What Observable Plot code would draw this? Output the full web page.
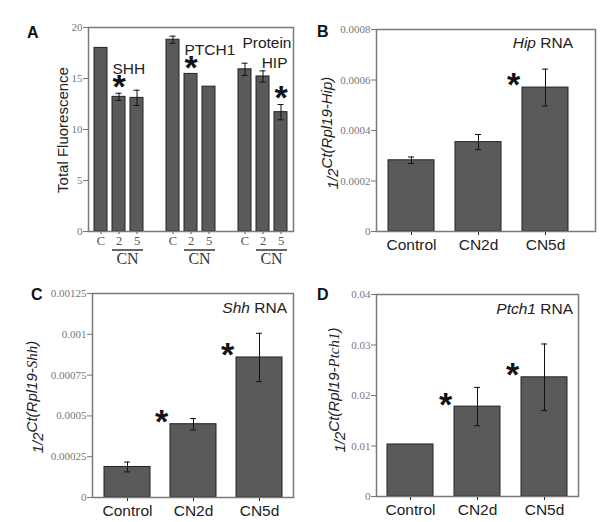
<!DOCTYPE html>
<html><head><meta charset="utf-8">
<script src="https://cdn.jsdelivr.net/npm/d3@7"></script>
<script src="https://cdn.jsdelivr.net/npm/@observablehq/plot@0.6"></script>
<style>
body{margin:0;background:#fff;}
#fig{position:relative;width:600px;height:522px;overflow:hidden;font-family:"Liberation Sans",Arial,sans-serif;}
.letter{position:absolute;font-weight:bold;font-size:16px;line-height:16px;color:#111;}
</style></head><body><div id="fig"></div>
<script>
// ---------- data ----------
// Panel A: protein total fluorescence
const proteins = ["SHH", "PTCH1", "HIP"];
const conditionsA = ["C", "2", "5"];
const proteinMeans = [18.0, 13.2, 13.1, 18.8, 15.45, 14.2, 15.9, 15.2, 11.7];
const proteinErrs = [0, 0.35, 0.75, 0.35, 0, 0, 0.6, 0.55, 0.75];
const proteinStars = [false, true, false, false, true, false, false, false, true];
const yTicksA = [0, 5, 10, 15, 20];
// Panels B-D: RNA
const rnaCategories = ["Control", "CN2d", "CN5d"];
const hipMeans = [0.000282, 0.000354, 0.000570];
const hipErrs = [0.000013, 0.00003, 0.000073];
const hipStars = [false, false, true];
const shhMeans = [0.000187, 0.000449, 0.000858];
const shhErrs = [0.00003, 0.000035, 0.000148];
const shhStars = [false, true, true];
const ptchMeans = [0.0103, 0.0178, 0.0236];
const ptchErrs = [0, 0.0038, 0.0066];
const ptchStars = [false, true, true];
const yTicksB = [0, 0.0002, 0.0004, 0.0006, 0.0008];
const yTicksC = [0, 0.00025, 0.0005, 0.00075, 0.001, 0.00125];
const yTicksD = [0, 0.01, 0.02, 0.03, 0.04];

// ---------- helpers ----------
const fig = document.getElementById("fig");
const SANS = "Liberation Sans, Arial, sans-serif";
const SERIF = "Liberation Serif, Times New Roman, serif";
const BAR_FILL = "#5a5a5a";
const STAR_SIZE = 34;
function place(el, left, top) {
  el.style.position = "absolute"; el.style.left = left + "px"; el.style.top = top + "px";
  fig.appendChild(el);
}
function letter(t, left, top) {
  const d = document.createElement("div"); d.className = "letter"; d.textContent = t;
  d.style.left = left + "px"; d.style.top = top + "px"; fig.appendChild(d);
}
function errMarks(data, xk, inset) {
  const e = data.filter(d => d.err > 0);
  return [
    Plot.ruleX(e, {x: xk, y1: d => d.mean - d.err, y2: d => d.mean + d.err, stroke: "#111", strokeWidth: 1}),
    Plot.tickY(e, {x: xk, y: d => d.mean + d.err, stroke: "#111", strokeWidth: 1, insetLeft: inset, insetRight: inset}),
    Plot.tickY(e, {x: xk, y: d => d.mean - d.err, stroke: "#111", strokeWidth: 1, insetLeft: inset, insetRight: inset})
  ];
}
function yAxis(ticks) {
  return Plot.axisY({ticks, tickFormat: d => String(d), tickSize: 5, tickPadding: 1,
    fontFamily: SERIF, fontSize: 11, color: "#777", label: null});
}
function frame() { return Plot.frame({stroke: "#7a7a7a", strokeWidth: 1.5}); }
// rotated y title with optional superscript / styled parts
function yTitle(svg, x, y, parts) {
  const t = svg.append("text").attr("transform", `translate(${x},${y}) rotate(-90)`)
    .attr("text-anchor", "middle").attr("font-family", SANS).attr("font-size", 15).attr("fill", "#222");
  let raised = false;
  parts.forEach(p => {
    const s = t.append("tspan").text(p.text);
    if (p.italic) s.attr("font-style", "italic");
    if (p.serif) s.attr("font-family", SERIF);
    if (p.sup && !raised) { s.attr("dy", -6); raised = true; }
  });
}
function cornerTitle(svg, x, y, parts) {
  const t = svg.append("text").attr("x", x).attr("y", y).attr("text-anchor", "end")
    .attr("font-family", SANS).attr("font-size", 15.5).attr("fill", "#222");
  parts.forEach(p => { const s = t.append("tspan").text(p.text); if (p.italic) s.attr("font-style", "italic"); });
}
function rnaData(means, errs, stars) {
  return rnaCategories.map((c, i) => ({cat: c, mean: means[i], err: errs[i], star: stars[i]}));
}
function rnaPanel({means, errs, stars, yTicks, width, height, mt, mr, mb, ml, xRange, pin, pout}) {
  const data = rnaData(means, errs, stars);
  const xOpts = {domain: rnaCategories, paddingInner: pin, paddingOuter: pout};
  if (xRange) xOpts.range = xRange;
  return Plot.plot({
    width, height, marginTop: mt, marginRight: mr, marginBottom: mb, marginLeft: ml,
    style: {background: "transparent", overflow: "visible"},
    x: xOpts,
    y: {domain: [yTicks[0], yTicks[yTicks.length - 1]]},
    marks: [
      Plot.barY(data, {x: "cat", y: "mean", fill: BAR_FILL, stroke: "#222", strokeWidth: 1}),
      ...errMarks(data, "cat", 20),
      yAxis(yTicks),
      Plot.axisX({tickSize: 4, tickPadding: 3, fontFamily: SANS, fontSize: 15.5, color: "#222", label: null}),
      frame(),
      Plot.text(data.filter(d => d.star), {x: "cat", y: "mean", text: () => "*", dx: -32, dy: -2,
        fontSize: STAR_SIZE, fontWeight: "bold", fontFamily: SANS, fill: "#111"})
    ]
  });
}

// ---------- Panel A ----------
const keysA = [];
const dataA = [];
proteins.forEach((p, i) => {
  if (i > 0) keysA.push("gap" + i);
  conditionsA.forEach((c, j) => {
    const k = i * 3 + j, key = p + "|" + c;
    keysA.push(key);
    dataA.push({key, protein: p, cond: c, mean: proteinMeans[k], err: proteinErrs[k], star: proteinStars[k]});
  });
});
const labelsA = [
  {text: "SHH", key: "SHH|2", y: 15.9, anchor: "start"},
  {text: "PTCH1", key: "PTCH1|2", y: 17.75, anchor: "start"},
  {text: "HIP", key: "HIP|5", y: 16.5, anchor: "end"}
];
const plotA = Plot.plot({
  width: 300, height: 272, marginTop: 27, marginRight: 7, marginBottom: 41, marginLeft: 88,
  style: {background: "transparent", overflow: "visible"},
  x: {domain: keysA, paddingInner: 0.3, paddingOuter: 0.15},
  y: {domain: [0, 20]},
  marks: [
    Plot.barY(dataA, {x: "key", y: "mean", fill: BAR_FILL, stroke: "#222", strokeWidth: 1}),
    ...errMarks(dataA, "key", 3.5),
    yAxis(yTicksA),
    Plot.axisX({ticks: dataA.map(d => d.key), tickFormat: k => k.split("|")[1], tickSize: 3, tickPadding: 2,
      fontFamily: SERIF, fontSize: 12.5, color: "#555", label: null}),
    frame(),
    Plot.text(dataA.filter(d => d.star), {x: "key", y: d => d.mean + d.err, text: () => "*", dy: -6,
      fontSize: STAR_SIZE, fontWeight: "bold", fontFamily: SANS, fill: "#111"}),
    Plot.text(labelsA.filter(d => d.anchor === "start"), {x: "key", y: "y", text: "text", textAnchor: "start", dx: -6.5,
      fontSize: 15.5, fontFamily: SANS, fill: "#222"}),
    Plot.text(labelsA.filter(d => d.anchor === "end"), {x: "key", y: "y", text: "text", textAnchor: "end", dx: 6.5,
      fontSize: 15.5, fontFamily: SANS, fill: "#222"}),
    Plot.text(["Protein"], {frameAnchor: "top-right", dx: -2, dy: 9, fontSize: 15.5, fontFamily: SANS, fill: "#222"})
  ]
});
place(plotA, 0, 0);
{
  const svg = d3.select(plotA);
  const sx = plotA.scale("x");
  const bw = sx.bandwidth;
  proteins.forEach(p => {
    const x1 = sx.apply(p + "|2"), x2 = sx.apply(p + "|5") + bw;
    svg.append("line").attr("x1", x1).attr("x2", x2).attr("y1", 250).attr("y2", 250)
      .attr("stroke", "#333").attr("stroke-width", 1.5);
    svg.append("text").attr("x", (x1 + x2) / 2).attr("y", 264).attr("text-anchor", "middle")
      .attr("font-family", SERIF).attr("font-size", 16).attr("fill", "#333").text("CN");
  });
  yTitle(svg, 68, 130, [{text: "Total Fluorescence"}]);
}
letter("A", 27, 25);

// ---------- Panel B ----------
const plotB = rnaPanel({means: hipMeans, errs: hipErrs, stars: hipStars, yTicks: yTicksB,
  width: 300, height: 262, mt: 29, mr: 5, mb: 31, ml: 76, xRange: [76, 279], pin: 0.32, pout: 0.155});
place(plotB, 300, 0);
{
  const svg = d3.select(plotB);
  yTitle(svg, 38, 133, [{text: "1/2", italic: true}, {text: "Ct(Rpl19-Hip)", italic: true, sup: true}]);
  cornerTitle(svg, 273, 47.5, [{text: "Hip", italic: true}, {text: " RNA"}]);
}
letter("B", 317, 24);

// ---------- Panel C ----------
const plotC = rnaPanel({means: shhMeans, errs: shhErrs, stars: shhStars, yTicks: yTicksC,
  width: 300, height: 260, mt: 31, mr: 7, mb: 25, ml: 92, pin: 0.31, pout: 0.165});
place(plotC, 0, 262);
{
  const svg = d3.select(plotC);
  yTitle(svg, 43, 135, [{text: "1/2", italic: true}, {text: "Ct(Rpl19-", italic: true, sup: true},
    {text: "Shh", italic: true, serif: true, sup: true}, {text: ")", italic: true, sup: true}]);
  cornerTitle(svg, 287, 50.5, [{text: "Shh", italic: true}, {text: " RNA"}]);
}
letter("C", 31, 287);

// ---------- Panel D ----------
const plotD = rnaPanel({means: ptchMeans, errs: ptchErrs, stars: ptchStars, yTicks: yTicksD,
  width: 300, height: 260, mt: 32, mr: 22, mb: 26, ml: 76, pin: 0.32, pout: 0.155});
place(plotD, 300, 262);
{
  const svg = d3.select(plotD);
  yTitle(svg, 45, 128, [{text: "1/2", italic: true}, {text: "Ct(Rpl19-", italic: true, sup: true},
    {text: "Ptch1", italic: true, serif: true, sup: true}, {text: ")", italic: true, sup: true}]);
  cornerTitle(svg, 273, 51.5, [{text: "Ptch1", italic: true}, {text: " RNA"}]);
}
letter("D", 317, 287);
</script>
</body></html>
